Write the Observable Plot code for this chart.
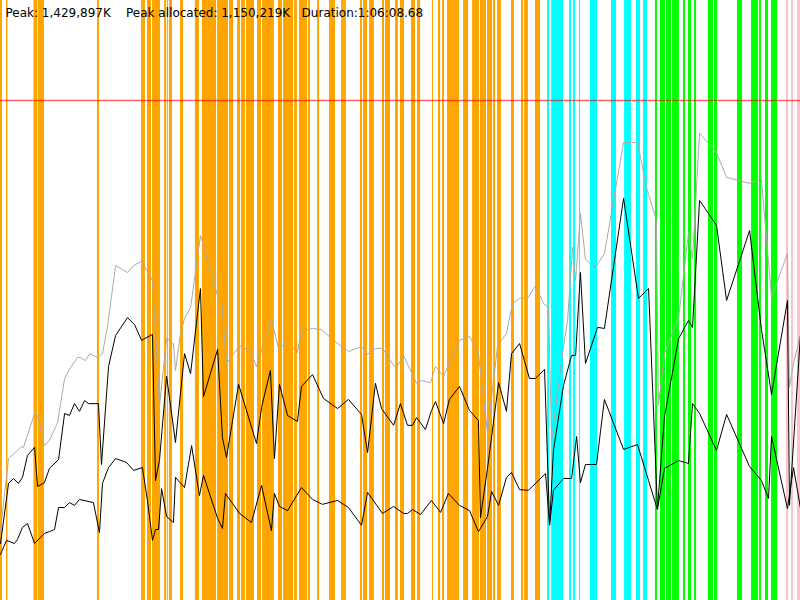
<!DOCTYPE html>
<html>
<head>
<meta charset="utf-8">
<script src="https://cdn.jsdelivr.net/npm/d3@7"></script>
<script src="https://cdn.jsdelivr.net/npm/@observablehq/plot@0.6"></script>
<style>
  body { margin: 0; background: #fff; }
  #chart svg { display: block; }
</style>
</head>
<body>
<div id="chart"></div>
<script>
// tiempos en segundos, memoria en miles de K
const duration = 3968.68
const peak = 1429.897
const peakAllocated = 1150.219
const yMax = 1715.876

const label = "Peak: 1,429,897K\u00a0\u00a0\u00a0\u00a0Peak allocated: 1,150,219K\u00a0\u00a0\u00a0Duration:1:06:08.68"

// [segundo, memoria]
const reserved = [[0,200],[40,406],[84,429],[104,440],[114,438],[169,535],[184,529],[218,443],[243,458],[283,509],[318,635],[347,666],[382,695],[397,695],[422,686],[442,706],[481,695],[506,706],[531,784],[571,958],[630,938],[660,958],[700,970],[754,915],[789,558],[824,749],[858,735],[868,658],[893,764],[913,807],[943,838],[992,1044],[1077,872],[1096,864],[1121,678],[1186,729],[1240,712],[1270,669],[1344,804],[1379,721],[1424,738],[1473,709],[1493,772],[1548,778],[1592,775],[1652,744],[1726,712],[1791,726],[1821,704],[1860,721],[1895,721],[1950,672],[1965,666],[1999,701],[2064,621],[2089,629],[2133,623],[2158,669],[2198,641],[2277,744],[2327,755],[2371,706],[2416,480],[2466,729],[2510,764],[2540,849],[2575,864],[2619,867],[2654,901],[2694,849],[2719,838],[2734,458],[2788,706],[2813,801],[2838,1010],[2853,915],[2877,1107],[2902,975],[2952,952],[2996,992],[3091,1310],[3160,1310],[3205,1181],[3254,1087],[3264,558],[3294,706],[3364,809],[3413,1050],[3433,978],[3468,1336],[3552,1281],[3602,1210],[3716,1193],[3775,1204],[3825,867],[3904,992],[3914,609],[3934,678],[3969,758]]

const allocated = [[0,163],[40,335],[64,349],[89,335],[109,352],[134,415],[169,438],[184,326],[218,337],[243,378],[288,403],[318,535],[342,529],[367,563],[392,541],[417,572],[437,563],[486,563],[501,389],[536,669],[571,758],[630,809],[665,789],[700,744],[754,761],[769,343],[789,403],[824,641],[868,452],[913,706],[943,649],[992,892],[1007,583],[1077,718],[1101,466],[1121,409],[1181,618],[1270,449],[1295,552],[1339,658],[1359,406],[1384,618],[1424,529],[1473,512],[1493,612],[1548,646],[1602,578],[1672,549],[1726,575],[1791,532],[1821,423],[1860,621],[1890,549],[1950,501],[1984,563],[2019,501],[2044,501],[2064,523],[2108,489],[2138,543],[2158,569],[2198,506],[2227,575],[2277,612],[2327,543],[2371,515],[2381,237],[2416,378],[2471,623],[2510,541],[2535,706],[2575,735],[2624,635],[2654,635],[2699,661],[2724,217],[2743,429],[2793,615],[2833,701],[2853,701],[2877,938],[2902,678],[2962,781],[2996,778],[3091,1150],[3165,864],[3215,892],[3259,263],[3294,526],[3364,749],[3413,801],[3433,781],[3468,1144],[3552,1073],[3602,858],[3716,1058],[3775,775],[3825,589],[3904,858],[3914,272],[3969,764]]

const live = [[0,132],[30,172],[69,163],[84,174],[109,209],[134,220],[169,163],[218,192],[243,197],[268,203],[288,266],[318,266],[342,280],[367,272],[392,289],[461,280],[491,194],[506,335],[536,380],[571,406],[625,395],[660,372],[704,380],[729,286],[754,172],[769,203],[784,203],[799,320],[824,240],[858,223],[868,352],[913,323],[948,443],[987,300],[1007,358],[1077,235],[1101,206],[1116,306],[1186,249],[1245,223],[1295,329],[1344,200],[1359,306],[1384,269],[1424,257],[1493,323],[1548,289],[1597,275],[1672,286],[1726,266],[1791,215],[1821,309],[1895,249],[1950,269],[1999,249],[2019,249],[2044,260],[2084,246],[2138,286],[2183,252],[2222,306],[2277,272],[2327,257],[2371,197],[2416,240],[2436,312],[2471,272],[2510,352],[2535,366],[2575,317],[2619,315],[2704,363],[2724,215],[2743,315],[2793,349],[2833,349],[2858,469],[2877,337],[2902,389],[2957,389],[2977,486],[2996,575],[3091,432],[3160,446],[3215,343],[3259,260],[3294,378],[3364,400],[3413,392],[3433,563],[3468,535],[3552,429],[3602,532],[3716,383],[3775,343],[3810,292],[3825,469],[3904,263],[3934,380],[3969,263]]

// eventos [inicio, fin] en segundos
const orangeEvents = [[0,10],[30,37],[166,184],[187,218],[481,491],[700,719],[729,749],[754,769],[769,784],[784,794],[814,824],[828,833],[838,853],[893,908],[967,987],[1002,1072],[1077,1131],[1136,1156],[1176,1191],[1196,1215],[1220,1260],[1275,1295],[1300,1359],[1379,1399],[1404,1454],[1459,1473],[1483,1523],[1528,1538],[1573,1583],[1632,1662],[1692,1702],[1702,1716],[1786,1796],[1801,1821],[1831,1855],[1895,1905],[1910,1935],[1960,1974],[1984,2004],[2039,2059],[2069,2084],[2143,2148],[2173,2183],[2193,2203],[2218,2237],[2237,2257],[2257,2277],[2297,2322],[2342,2376],[2381,2411],[2416,2441],[2446,2456],[2466,2485],[2535,2550],[2585,2595],[2600,2619],[2654,2679]]
const cyanEvents = [[2714,2724],[2734,2793],[2823,2833],[2843,2853],[2872,2877],[2927,2962],[3031,3056],[3096,3130],[3155,3175],[3190,3210]]
const greenEvents = [[3249,3259],[3274,3299],[3304,3329],[3334,3359],[3359,3368],[3388,3398],[3413,3428],[3443,3453],[3512,3537],[3542,3557],[3656,3681],[3726,3760],[3765,3775],[3795,3810],[3825,3835],[3835,3855]]
const pinkEvents = [[3899,3909],[3924,3934],[3954,3969]]

const bars = (data, fill) => Plot.rect(data, {x1: d => d[0], x2: d => d[1], fill})
const serie = (data, stroke) => Plot.line(data, {x: d => d[0], y: d => d[1], stroke, strokeWidth: 1})

let chart = Plot.plot({
  width: 800,
  height: 600,
  margin: 0,
  style: {background: "white", fontFamily: "DejaVu Sans", fontSize: "12px"},
  x: {domain: [0, duration], axis: null},
  y: {domain: [0, yMax], axis: null},
  marks: [
    bars(orangeEvents, "#ffa500"),
    bars(cyanEvents, "#00ffff"),
    bars(greenEvents, "#00ff00"),
    bars(pinkEvents, "#ffc0cb"),
    Plot.ruleY([peak], {stroke: "#ff0000", strokeOpacity: 0.6, strokeWidth: 1.5}),
    serie(reserved, "#aaaaaa"),
    serie(allocated, "#000000"),
    serie(live, "#000000"),
    Plot.text([label], {frameAnchor: "top-left", textAnchor: "start", lineAnchor: "top", dx: 5, dy: 8, fill: "black"})
  ]
})

d3.select('#chart').append(() => chart)
</script>
</body>
</html>
